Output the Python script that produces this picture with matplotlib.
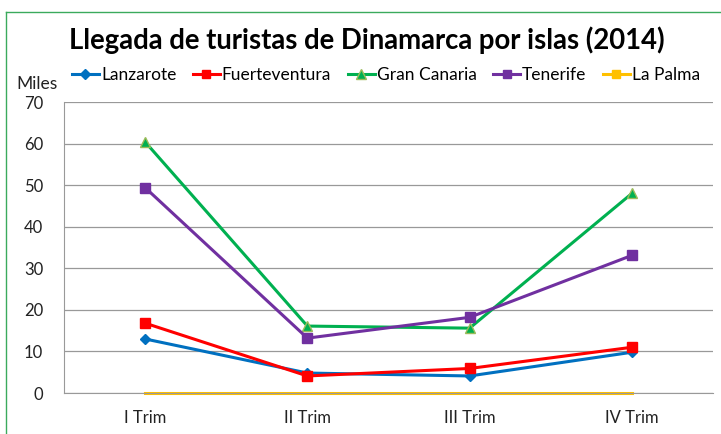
import matplotlib
matplotlib.use("Agg")
import matplotlib.pyplot as plt
from matplotlib.lines import Line2D

plt.rcParams['font.family'] = ['Lato', 'DejaVu Sans']

trimestres = ["I Trim", "II Trim", "III Trim", "IV Trim"]
lanzarote = [13.0, 4.8, 4.1, 9.8]
fuerteventura = [16.8, 4.1, 5.9, 11.0]
gran_canaria = [60.4, 16.1, 15.6, 48.0]
tenerife = [49.4, 13.2, 18.2, 33.1]
la_palma = [0, 0, 0, 0]

fig = plt.figure(figsize=(7.21, 4.34), dpi=100)
ax = fig.add_axes([64/721, 1-393/434, 649/721, 291/434])

x = range(len(trimestres))
ax.plot(x, la_palma, color="#FFC000", lw=2.2, zorder=2, clip_on=False)
ax.plot(x, lanzarote, color="#0070C0", lw=2.2, marker="D", ms=5.5, zorder=3)
ax.plot(x, fuerteventura, color="#FF0000", lw=2.2, marker="s", ms=7, zorder=3)
ax.plot(x, gran_canaria, color="#00B050", lw=2.2, marker="^", ms=7.5,
        mec="#9BBB59", zorder=3)
ax.plot(x, tenerife, color="#7030A0", lw=2.2, marker="s", ms=7, zorder=3)

ax.set_xlim(-0.5, 3.5)
ax.set_ylim(0, 70)
ax.set_yticks(range(0, 71, 10))
ax.set_xticks(list(x))
ax.set_xticklabels(trimestres)
ax.grid(axis="y", color="#999999", lw=0.9)
ax.set_axisbelow(True)
for s in ["top", "right"]:
    ax.spines[s].set_visible(False)
ax.spines["left"].set_color("#999999")
ax.spines["bottom"].set_color("#999999")
ax.tick_params(axis="both", length=0, labelsize=12, colors="#222222")
ax.tick_params(axis="y", pad=15)
ax.tick_params(axis="x", pad=12)

fig.text(367/721, 1-40/434, "Llegada de turistas de Dinamarca por islas (2014)",
         ha="center", va="center", fontsize=19.8, fontweight="bold")
fig.text(37/721, 1-84/434, "Miles", ha="center", va="center", fontsize=12.5,
         color="#222222")

handles = [
    Line2D([], [], color="#0070C0", lw=2.2, marker="D", ms=5),
    Line2D([], [], color="#FF0000", lw=2.2, marker="s", ms=6),
    Line2D([], [], color="#00B050", lw=2.2, marker="^", ms=6.5, mec="#9BBB59"),
    Line2D([], [], color="#7030A0", lw=2.2, marker="s", ms=6),
    Line2D([], [], color="#FFC000", lw=2.2, marker="s", ms=6),
]
labels = ["Lanzarote", "Fuerteventura", "Gran Canaria", "Tenerife", "La Palma"]
fig.legend(handles, labels, loc="center left", bbox_to_anchor=(72/721, 1-75/434),
           ncol=5, frameon=False, fontsize=12.5, handlelength=1.55,
           handletextpad=0.12, columnspacing=0.95, borderpad=0, borderaxespad=0)

# marco verde del grafico
fig.add_artist(Line2D([5.5/721, 5.5/721], [0, 1-11.5/434], color="#3BAA5C", lw=1))
fig.add_artist(Line2D([5.5/721, 1], [1-11.5/434, 1-11.5/434], color="#3BAA5C", lw=1))

fig.savefig("out.png", dpi=100)
